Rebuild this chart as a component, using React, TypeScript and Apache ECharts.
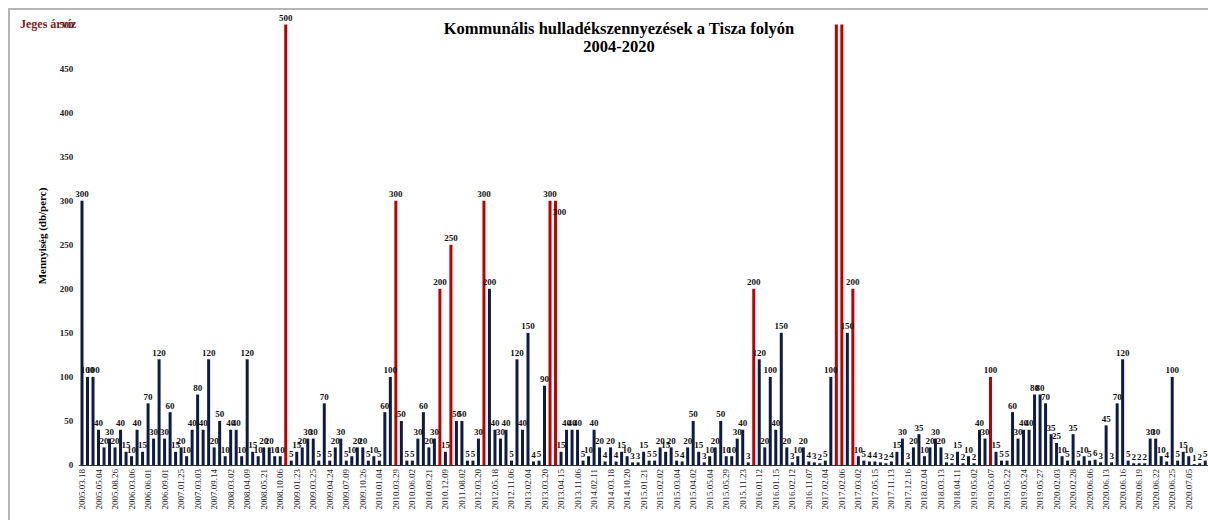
import React, { useEffect, useRef } from "react";
import * as echarts from "echarts";

const titleText = "Kommunális hulladékszennyezések a Tisza folyón";
const subTitleText = "2004-2020";
const yAxisName = "Mennyiség (db/perc)";
const iceFloodName = "Jeges árvíz";
const mainName = "Mennyiség";

// every third category carries a date label
const tickLabels = [
  "2005.03.18", "2005.05.04", "2005.08.26", "2006.03.06", "2006.06.01", "2006.09.01",
  "2007.01.25", "2007.03.03", "2007.09.14", "2008.03.02", "2008.04.09", "2008.05.21",
  "2008.10.06", "2009.01.23", "2009.03.25", "2009.04.24", "2009.07.09", "2009.10.26",
  "2010.01.04", "2010.03.29", "2010.06.02", "2010.09.21", "2010.12.09", "2011.08.02",
  "2012.03.20", "2012.05.18", "2012.11.06", "2013.02.04", "2013.03.20", "2013.04.15",
  "2013.11.06", "2014.02.11", "2014.03.18", "2014.10.20", "2015.01.21", "2015.02.02",
  "2015.03.04", "2015.04.02", "2015.05.04", "2015.05.29", "2015.11.23", "2016.01.12",
  "2016.01.15", "2016.02.12", "2016.11.07", "2017.02.04", "2017.02.06", "2017.03.02",
  "2017.05.15", "2017.11.13", "2017.12.16", "2018.02.04", "2018.03.13", "2018.04.11",
  "2019.05.02", "2019.05.07", "2019.05.22", "2019.05.24", "2019.05.27", "2020.02.03",
  "2020.02.28", "2020.06.06", "2020.06.13", "2020.06.16", "2020.06.19", "2020.06.22",
  "2020.06.25", "2020.07.05",
];

const values = [
  300, 100, 100, 40, 20, 30, 20, 40, 15, 10, 40, 15, 70, 30, 120, 30, 60, 15, 20, 10,
  40, 80, 40, 120, 20, 50, 10, 40, 40, 10, 120, 15, 10, 20, 20, 10, 10, 500, 5, 15,
  20, 30, 30, 5, 70, 5, 20, 30, 5, 10, 20, 20, 5, 10, 5, 60, 100, 300, 50, 5,
  5, 30, 60, 20, 30, 200, 15, 250, 50, 50, 5, 5, 30, 300, 200, 40, 30, 40, 5, 120,
  40, 150, 4, 5, 90, 300, 300, 15, 40, 40, 40, 5, 10, 40, 20, 4, 20, 4, 15, 10,
  3, 3, 15, 5, 5, 20, 15, 20, 5, 4, 20, 50, 15, 3, 10, 20, 50, 10, 10, 30,
  40, 3, 200, 120, 20, 100, 40, 150, 20, 3, 10, 20, 4, 3, 2, 5, 100, 600, 600, 150,
  200, 10, 5, 4, 4, 3, 2, 4, 15, 30, 3, 20, 35, 10, 20, 30, 20, 3, 2, 15,
  2, 10, 2, 40, 30, 100, 15, 5, 5, 60, 30, 40, 40, 80, 80, 70, 35, 25, 10, 5,
  35, 5, 10, 5, 6, 3, 45, 3, 70, 120, 5, 2, 2, 2, 30, 30, 10, 4, 100, 5,
  15, 10, 1, 2, 5,
];

// indices of the ice-flood events (red bars)
const iceFloodIndices = [37, 57, 65, 67, 73, 85, 86, 122, 137, 138, 140, 165];

const yMax = 500;
const FONT = "'Liberation Serif', 'Times New Roman', serif";

export default function App() {
  const ref = useRef<HTMLDivElement>(null);

  useEffect(() => {
    if (!ref.current) return;
    const chart = echarts.init(ref.current, null, { renderer: "svg" });

    const categories = values.map((_, i) => (i % 3 === 0 ? tickLabels[i / 3] ?? "" : ""));
    const iceSet = new Set(iceFloodIndices);
    const mainData = values.map((v, i) => (iceSet.has(i) ? "-" : v));
    const iceData = values.map((v, i) => {
      if (!iceSet.has(i)) return "-";
      if (i === 86) return { value: v, label: { offset: [4, 18] } };
      return v;
    });

    const labelCfg = {
      show: true,
      position: "top",
      distance: 2,
      fontSize: 9,
      fontWeight: "bold",
      fontFamily: FONT,
      color: "#111",
      formatter: (p: any) => (p.value > yMax ? "" : String(p.value)),
    };

    chart.setOption({
      animation: false,
      backgroundColor: "#fff",
      title: {
        text: titleText + "\n" + subTitleText,
        left: 604,
        textAlign: "center",
        top: 4,
        textStyle: {
          fontFamily: FONT,
          fontSize: 16.5,
          fontWeight: "bold",
          color: "#000",
          lineHeight: 18,
        },
      },
      legend: {
        data: [iceFloodName],
        left: 5,
        top: 8,
        padding: 0,
        itemWidth: 0,
        itemHeight: 0,
        selectedMode: false,
        textStyle: {
          fontFamily: FONT,
          fontSize: 12,
          fontWeight: "bold",
          color: "#7a2222",
        },
      },
      graphic: [
        {
          type: "text",
          x: 32,
          y: 226,
          rotation: Math.PI / 2,
          style: {
            text: yAxisName,
            fontFamily: FONT,
            fontSize: 11,
            fontWeight: "bold",
            fill: "#000",
            align: "center",
            verticalAlign: "middle",
          },
        },
      ],
      grid: { left: 69.25, right: 0, top: 14.5, bottom: 55 },
      xAxis: {
        type: "category",
        data: categories,
        boundaryGap: true,
        axisTick: { show: false },
        axisLine: { lineStyle: { color: "#333", width: 1 } },
        axisLabel: {
          interval: 2,
          rotate: 90,
          fontSize: 9,
          fontFamily: FONT,
          color: "#222",
          margin: 4,
        },
      },
      yAxis: {
        type: "value",
        min: 0,
        max: yMax,
        interval: 50,
        axisLine: { show: false },
        axisTick: { show: false },
        splitLine: { show: false },
        axisLabel: {
          fontSize: 9,
          fontWeight: "bold",
          fontFamily: FONT,
          color: "#222",
          margin: 6,
        },
      },
      series: [
        {
          name: mainName,
          type: "bar",
          stack: "all",
          data: mainData,
          barWidth: 3,
          itemStyle: { color: "#0e1c45" },
          label: labelCfg,
        },
        {
          name: iceFloodName,
          type: "bar",
          stack: "all",
          data: iceData,
          barWidth: 3,
          itemStyle: { color: "#c00000" },
          label: labelCfg,
        },
      ],
    });

    return () => chart.dispose();
  }, []);

  return (
    <div
      style={{
        position: "fixed",
        left: 8,
        top: 8,
        width: 1210,
        height: 520,
        borderTop: "2px solid #b5b5b5",
        borderLeft: "2px solid #b5b5b5",
        background: "#fff",
      }}
    >
      <div ref={ref} style={{ width: 1198, height: 510 }} />
    </div>
  );
}
